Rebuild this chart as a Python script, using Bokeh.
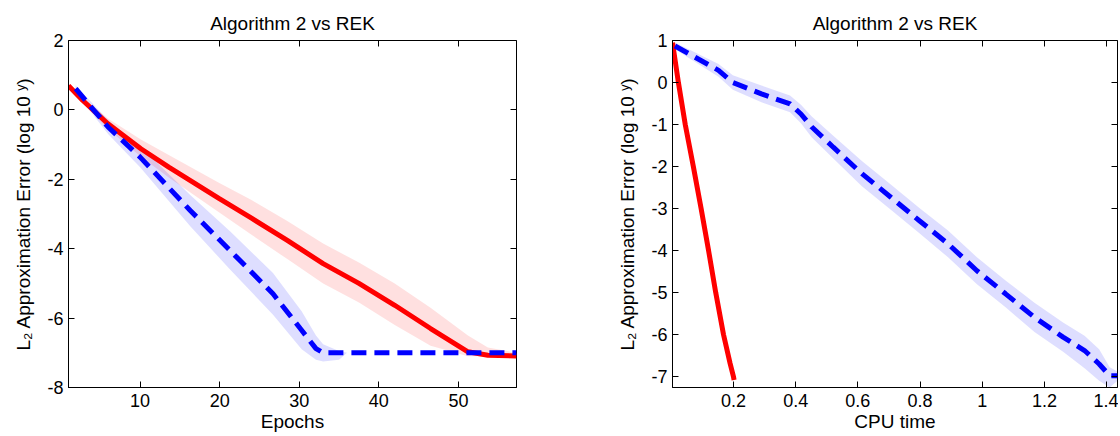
from bokeh.plotting import figure
from bokeh.layouts import row
from bokeh.models import Range1d, FixedTicker, LinearAxis, CustomJSTickFormatter
from bokeh.embed import file_html
from bokeh.resources import INLINE

# ---------------- data: left panel (Epochs) ----------------
ep_red_x = [1, 2.8, 5.95, 10.1, 13.6, 19.9, 24.0, 28.5, 33.0, 37.5, 42.0, 46.5, 51.2, 53.7, 57.3]
ep_red_y = [0.70, 0.27, -0.40, -1.12, -1.65, -2.55, -3.12, -3.76, -4.43, -5.0, -5.63, -6.3, -6.97, -7.07, -7.09]
ep_red_hi = [0.75, 0.35, -0.25, -0.85, -1.3, -2.1, -2.6, -3.2, -3.85, -4.4, -5.0, -5.7, -6.5, -6.85, -7.0]
ep_red_lo = [0.65, 0.2, -0.55, -1.35, -1.95, -2.95, -3.6, -4.3, -5.0, -5.55, -6.2, -6.8, -7.1, -7.1, -7.1]

ep_blue_x = [1.9, 6, 10, 16.3, 21.3, 26.7, 30.3, 32.1, 33, 35, 36, 57.3]
ep_blue_y = [0.61, -0.5, -1.36, -2.9, -4.05, -5.3, -6.35, -6.88, -7.0, -7.0, -7.0, -7.0]
ep_blue_hi = [0.7, -0.3, -1.05, -2.45, -3.5, -4.7, -5.8, -6.5, -6.75, -6.95, -7.0, -7.0]
ep_blue_lo = [0.5, -0.7, -1.65, -3.35, -4.6, -5.9, -6.9, -7.2, -7.25, -7.2, -7.0, -7.0]

# ---------------- data: right panel (CPU time) ----------------
cpu_red_x = [0.004, 0.023, 0.045, 0.071, 0.096, 0.120, 0.143, 0.168, 0.189, 0.200, 0.202]
cpu_red_y = [0.95, 0.0, -1.0, -2.0, -3.0, -4.0, -5.0, -6.0, -6.68, -7.0, -7.08]
cpu_red_hi = [0.98, 0.05, -0.95, -1.95, -2.95, -3.95, -4.95, -5.95, -6.63, -6.95, -7.03]
cpu_red_lo = [0.92, -0.05, -1.05, -2.05, -3.05, -4.05, -5.05, -6.05, -6.73, -7.05, -7.12]

cpu_blue_x = [0.012, 0.152, 0.198, 0.29, 0.382, 0.417, 0.452, 0.521, 0.613, 0.706, 0.798, 0.89,
              0.983, 1.075, 1.168, 1.26, 1.329, 1.376, 1.41, 1.435]
cpu_blue_y = [0.87, 0.29, 0.0, -0.27, -0.51, -0.75, -1.06, -1.54, -2.17, -2.73, -3.29, -3.84,
              -4.48, -5.03, -5.59, -6.06, -6.38, -6.7, -6.98, -6.98]
cpu_blue_hi = [0.95, 0.44, 0.17, -0.07, -0.31, -0.53, -0.81, -1.27, -1.87, -2.43, -2.99, -3.52,
               -4.16, -4.71, -5.24, -5.71, -6.03, -6.35, -6.78, -6.88]
cpu_blue_lo = [0.79, 0.14, -0.17, -0.47, -0.71, -0.97, -1.31, -1.81, -2.47, -3.03, -3.59, -4.16,
               -4.80, -5.35, -5.94, -6.41, -6.8, -7.1, -7.26, -7.1]

ep_xticks = [10, 20, 30, 40, 50]
ep_yticks = [-8, -6, -4, -2, 0, 2]
cpu_xticks = [0.2, 0.4, 0.6, 0.8, 1.0, 1.2, 1.4]
cpu_yticks = [-7, -6, -5, -4, -3, -2, -1, 0, 1]

TITLE = "Algorithm 2 vs REK"
YLABEL = "L\u2082 Approximation Error (log 10 \u02b8)"
FONT = "Liberation Sans"
RED = "#ff0000"
BLUE = "#0000ff"

NUMFMT = "var s = (Math.round(tick * 10) / 10).toString(); return s;"
BLANK = "return '';"


def style(p, xticks, yticks, xlabel):
    p.title.text_font = FONT
    p.title.text_font_size = "19px"
    p.title.text_font_style = "normal"
    p.title.text_color = "black"
    p.title.align = "center"
    p.title.standoff = 14
    p.xgrid.visible = False
    p.ygrid.visible = False
    p.outline_line_color = "black"
    p.outline_line_width = 1
    for ax in (p.xaxis[0], p.yaxis[0]):
        ax.major_tick_in = 6
        ax.major_tick_out = 0
        ax.minor_tick_line_color = None
        ax.axis_line_color = "black"
        ax.major_tick_line_color = "black"
        ax.major_label_text_font = FONT
        ax.major_label_text_font_size = "18px"
        ax.major_label_text_color = "black"
        ax.axis_label_text_font = FONT
        ax.axis_label_text_font_size = "19px"
        ax.axis_label_text_font_style = "normal"
        ax.axis_label_text_color = "black"
        ax.formatter = CustomJSTickFormatter(code=NUMFMT)
    p.xaxis[0].ticker = FixedTicker(ticks=xticks)
    p.yaxis[0].ticker = FixedTicker(ticks=yticks)
    p.xaxis[0].axis_label = xlabel
    p.yaxis[0].axis_label = YLABEL
    p.xaxis[0].major_label_standoff = 6
    p.xaxis[0].axis_label_standoff = 1
    p.yaxis[0].major_label_standoff = 5
    p.yaxis[0].axis_label_standoff = 10
    # mirrored ticks on top and right (no labels)
    top = LinearAxis(ticker=FixedTicker(ticks=xticks), major_tick_in=6, major_tick_out=0,
                     minor_tick_line_color=None, axis_line_color=None,
                     formatter=CustomJSTickFormatter(code=BLANK), major_label_standoff=0)
    right = LinearAxis(ticker=FixedTicker(ticks=yticks), major_tick_in=6, major_tick_out=0,
                       minor_tick_line_color=None, axis_line_color=None,
                       formatter=CustomJSTickFormatter(code=BLANK), major_label_standoff=0)
    p.add_layout(top, "above")
    p.add_layout(right, "right")


# ---------------- left figure ----------------
p1 = figure(frame_width=448, frame_height=347, min_border_left=68, min_border_right=92,
            min_border_top=40, min_border_bottom=0,
            x_range=Range1d(1, 57.3), y_range=Range1d(-8, 2),
            title=TITLE, output_backend="svg", toolbar_location=None)
p1.varea(x=ep_red_x, y1=ep_red_lo, y2=ep_red_hi, fill_color=RED, fill_alpha=0.12)
p1.varea(x=ep_blue_x, y1=ep_blue_lo, y2=ep_blue_hi, fill_color=BLUE, fill_alpha=0.13)
p1.line(ep_red_x, ep_red_y, line_color=RED, line_width=5)
p1.line(ep_blue_x, ep_blue_y, line_color=BLUE, line_width=5, line_dash="15 8")
style(p1, ep_xticks, ep_yticks, "Epochs")

# ---------------- right figure ----------------
p2 = figure(frame_width=445, frame_height=347, min_border_left=64, min_border_right=1,
            min_border_top=40, min_border_bottom=0,
            x_range=Range1d(0.004, 1.435), y_range=Range1d(-7.26, 1.0),
            title=TITLE, output_backend="svg", toolbar_location=None)
p2.varea(x=cpu_red_x, y1=cpu_red_lo, y2=cpu_red_hi, fill_color=RED, fill_alpha=0.12)
p2.varea(x=cpu_blue_x, y1=cpu_blue_lo, y2=cpu_blue_hi, fill_color=BLUE, fill_alpha=0.13)
p2.line(cpu_red_x, cpu_red_y, line_color=RED, line_width=5)
p2.line(cpu_blue_x, cpu_blue_y, line_color=BLUE, line_width=5, line_dash="15 8")
style(p2, cpu_xticks, cpu_yticks, "CPU time")

layout = row(p1, p2)
open("out.html", "w").write(file_html(layout, INLINE))
